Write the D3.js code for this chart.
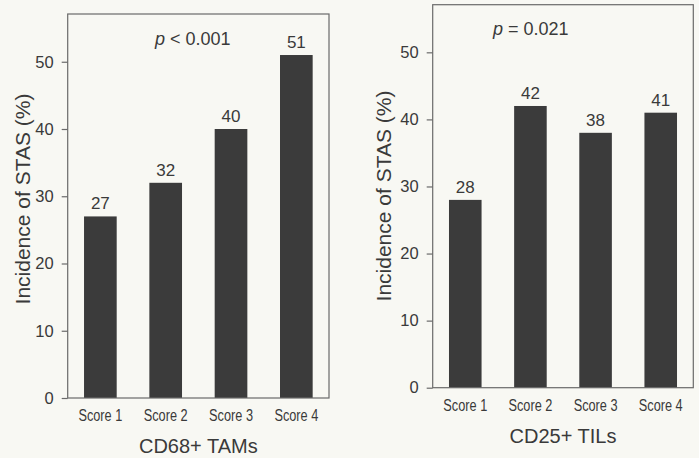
<!DOCTYPE html>
<html>
<head>
<meta charset="utf-8">
<script src="https://cdn.jsdelivr.net/npm/d3@7"></script>
<style>
  html, body { margin: 0; padding: 0; background: #f8f8f3; }
  svg { display: block; font-family: "Liberation Sans", Arial, sans-serif; }
  .tick text { fill: #3a3a3a; }
</style>
</head>
<body>
<div id="chart"></div>
<script>
  //============================================================
  // Data
  //------------------------------------------------------------

  var scoreLabels = ["Score 1", "Score 2", "Score 3", "Score 4"];
  var tamValues = [27, 32, 40, 51];
  var tilValues = [28, 42, 38, 41];
  var yTicks = [0, 10, 20, 30, 40, 50];
  var yLabel = "Incidence of STAS (%)";

  //============================================================
  // Settings
  //------------------------------------------------------------

  var width = 699,
    height = 458,
    yMax = 57.1,
    barColor = "#3b3b3b",
    frameColor = "#6a6a6a",
    textColor = "#3a3a3a";

  var panels = [
    {
      values: tamValues, title: "CD68+ TAMs", pOp: " < 0.001",
      left: 67.7, right: 329, top: 14, bottom: 398,
      yLabelX: 30, yLabelY: 199, xLabelY: 421, titleY: 453, pX: 155, pY: 45
    },
    {
      values: tilValues, title: "CD25+ TILs", pOp: " = 0.021",
      left: 432.7, right: 693.3, top: 4.7, bottom: 387.7,
      yLabelX: 391, yLabelY: 196, xLabelY: 410.5, titleY: 443, pX: 493, pY: 35
    }
  ];

  var svg = d3.select("#chart").append("svg")
    .attr("width", width)
    .attr("height", height);

  svg.append("rect")
    .attr("width", width)
    .attr("height", height)
    .attr("fill", "#f8f8f3");

  //============================================================
  // Draw one panel
  //------------------------------------------------------------

  function drawPanel(p) {
    var x = d3.scaleBand()
      .domain(scoreLabels)
      .range([p.left, p.right])
      .paddingInner(0.5)
      .paddingOuter(0.25);

    var y = d3.scaleLinear()
      .domain([0, yMax])
      .range([p.bottom, p.top]);

    var g = svg.append("g");

    // bars
    g.selectAll("rect.bar")
      .data(p.values)
      .enter().append("rect")
      .attr("class", "bar")
      .attr("x", function(d, i) { return x(scoreLabels[i]); })
      .attr("width", x.bandwidth())
      .attr("y", function(d) { return y(d); })
      .attr("height", function(d) { return y(0) - y(d); })
      .attr("fill", barColor);

    // value labels
    g.selectAll("text.val")
      .data(p.values)
      .enter().append("text")
      .attr("class", "val")
      .attr("x", function(d, i) { return x(scoreLabels[i]) + x.bandwidth() / 2; })
      .attr("y", function(d) { return y(d) - 7; })
      .attr("text-anchor", "middle")
      .attr("font-size", 17)
      .attr("fill", textColor)
      .text(function(d) { return d; });

    // frame
    g.append("rect")
      .attr("x", p.left)
      .attr("y", p.top)
      .attr("width", p.right - p.left)
      .attr("height", p.bottom - p.top)
      .attr("fill", "none")
      .attr("stroke", frameColor)
      .attr("stroke-width", 1.2);

    // y axis
    var yAxis = g.append("g")
      .attr("transform", "translate(" + p.left + ",0)")
      .call(d3.axisLeft(y).tickValues(yTicks).tickSize(6).tickPadding(8));
    yAxis.select(".domain").remove();
    yAxis.selectAll("line").attr("stroke", frameColor).attr("stroke-width", 1.2);
    yAxis.selectAll("text").attr("font-size", 16.5).attr("font-family", "Liberation Sans, Arial, sans-serif");

    // x axis (labels are a condensed face in the original)
    var xAxis = g.append("g")
      .attr("transform", "translate(0," + p.bottom + ")")
      .call(d3.axisBottom(x).tickSize(0).tickPadding(0));
    xAxis.select(".domain").remove();
    xAxis.selectAll("text")
      .attr("dy", null)
      .attr("y", 0)
      .attr("transform", "translate(0," + (p.xLabelY - p.bottom) + ") scale(0.85,1.15)")
      .attr("font-size", 15)
      .attr("font-family", "Liberation Sans, Arial, sans-serif");

    // titles
    g.append("text")
      .attr("transform", "translate(" + p.yLabelX + "," + p.yLabelY + ") rotate(-90)")
      .attr("text-anchor", "middle")
      .attr("font-size", 21)
      .attr("fill", textColor)
      .text(yLabel);

    g.append("text")
      .attr("x", (p.left + p.right) / 2)
      .attr("y", p.titleY)
      .attr("text-anchor", "middle")
      .attr("font-size", 20)
      .attr("fill", textColor)
      .text(p.title);

    var pText = g.append("text")
      .attr("x", p.pX)
      .attr("y", p.pY)
      .attr("font-size", 18)
      .attr("fill", textColor);
    pText.append("tspan").attr("font-style", "italic").text("p");
    pText.append("tspan").text(p.pOp);
  }

  panels.forEach(drawPanel);
</script>
</body>
</html>
